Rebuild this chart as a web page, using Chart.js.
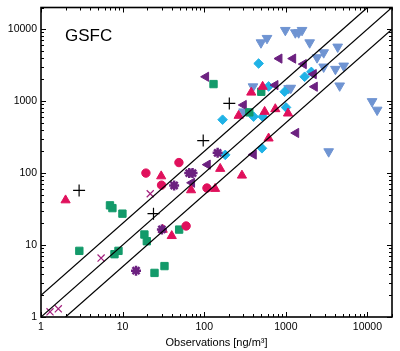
<!DOCTYPE html>
<html>
<head>
<meta charset="utf-8">
<script src="https://cdn.jsdelivr.net/npm/chart.js@4/dist/chart.umd.min.js"></script>
<style>
    * { margin: 0; padding: 0; }
    body { background: #fff; width: 400px; height: 351px; overflow: hidden; }
    #wrap { position: relative; width: 400px; height: 351px; }
</style>
</head>
<body>
<div id="wrap"><canvas id="mainChart" width="400" height="351"></canvas></div>
<script>
//  D A T A  //
const tickValues = [1, 10, 100, 1000, 10000];
const axisMin = 1;
const axisMax = 20000;

// ratio lines 1:2, 1:1, 2:1
const lineUpperX = [1, 10000];
const lineUpperY = [2, 20000];
const lineMidX = [1, 20000];
const lineMidY = [1, 20000];
const lineLowerX = [2, 20000];
const lineLowerY = [1, 10000];

const circleX = [19.3, 49, 30, 60, 108];
const circleY = [100, 140, 68, 18.4, 62];

const triUpX = [2.0, 29.7, 31, 40, 69, 157, 136, 290, 377, 520, 264, 550, 743, 1064, 615];
const triUpY = [42, 90.6, 16.4, 13.4, 58, 115, 60.6, 92.7, 1320, 1590, 628, 713, 777, 676, 304];

const squareX = [7.0, 7.5, 9.95, 2.95, 7.95, 8.9, 18.5, 19.8, 24.6, 32.6, 49.3, 130, 500, 357];
const squareY = [35.6, 32.6, 27.3, 8.3, 7.46, 8.3, 14, 11.3, 4.1, 5.1, 16.4, 1725, 1350, 698];

const triLeftX = [105, 832, 1225, 1653, 2190, 2256, 743, 304, 1334, 403, 110, 70.7];
const triLeftY = [2180, 3900, 3900, 3270, 2370, 1585, 1670, 883, 361, 181, 131, 73.4];

const plusX = [2.93, 23.9, 97.2, 203];
const plusY = [57.4, 27.3, 283, 930];

const crossX = [21.8, 5.45, 1.29, 1.63];
const crossY = [51.6, 6.6, 1.18, 1.3];

const starX = [14.6, 30.3, 42.8, 65.5, 72, 146];
const starY = [4.4, 16.5, 67.3, 100, 100, 191];

const diamondX = [464, 615, 967, 1700, 2056, 168, 403, 520, 1005, 510, 181];
const diamondY = [3330, 1600, 1350, 2180, 2550, 552, 608, 608, 818, 221, 179];

const triDownX = [986, 1308, 1436, 1580, 588, 496, 1960, 4320, 2910, 2415, 2910, 4050, 5120, 4570, 396, 1082, 1150, 304, 11400, 13150, 3350];
const triDownY = [9660, 8950, 8950, 9660, 7480, 6500, 6500, 5670, 4730, 4030, 2995, 2780, 3090, 1635, 1590, 1500, 1520, 713, 990, 753, 199];


function pts(xs, ys) {
    return xs.map((v, i) => ({ x: v, y: ys[i] }));
}

function lineSet(xs, ys) {
    return {
        data: pts(xs, ys),
        showLine: true,
        borderColor: "#000",
        borderWidth: 1.2,
        pointRadius: 0,
        fill: false
    };
}

function markerSet(xs, ys, style, color, radius, rotation, bw) {
    return {
        data: pts(xs, ys),
        pointStyle: style,
        pointRadius: radius,
        pointRotation: rotation || 0,
        backgroundColor: color,
        borderColor: color,
        borderWidth: bw === undefined ? 1 : bw
    };
}

const pink = "#e0105c";
const green = "#139a6a";
const purple = "#6c2180";
const cyan = "#1fb2e6";
const steel = "#6f94d2";


//  T I C K S   +   F R A M E  //
const framePlugin = {
    id: "frame",
    afterDatasetsDraw(chart) {
        const { ctx, chartArea: a, scales } = chart;
        const x = scales.x, y = scales.y;
        ctx.save();
        ctx.strokeStyle = "#000";
        ctx.lineWidth = 1;
        ctx.beginPath();
        for (let d = 1; d <= 10000; d *= 10) {
            for (let m = 1; m <= 9; m++) {
                const v = d * m;
                if (v > axisMax) break;
                const len = m === 1 ? 5 : 3;
                const px = Math.round(x.getPixelForValue(v)) + 0.5;
                ctx.moveTo(px, a.bottom); ctx.lineTo(px, a.bottom - len);
                ctx.moveTo(px, a.top); ctx.lineTo(px, a.top + len);
                const py = Math.round(y.getPixelForValue(v)) + 0.5;
                ctx.moveTo(a.left, py); ctx.lineTo(a.left + len, py);
                ctx.moveTo(a.right, py); ctx.lineTo(a.right - len, py);
            }
        }
        ctx.stroke();
        ctx.lineWidth = 1.6;
        ctx.strokeRect(a.left, a.top, a.right - a.left, a.bottom - a.top);

        ctx.fillStyle = "#000";
        ctx.font = "17px 'Liberation Sans', Arial, sans-serif";
        ctx.textBaseline = "middle";
        ctx.textAlign = "left";
        ctx.fillText("GSFC", 65, 36);
        ctx.restore();
    }
};

const tickFont = { family: "'Liberation Sans', Arial, sans-serif", size: 10.5 };

function fixTicks(scale) {
    scale.ticks = tickValues.map(v => ({ value: v }));
}

const chart = new Chart(document.getElementById("mainChart"), {
    type: "scatter",
    data: {
        datasets: [
            lineSet(lineUpperX, lineUpperY),
            lineSet(lineMidX, lineMidY),
            lineSet(lineLowerX, lineLowerY),
            markerSet(plusX, plusY, "cross", "#000", 6, 0, 1.2),
            markerSet(crossX, crossY, "crossRot", "#a3207e", 5, 0, 1.2),
            markerSet(starX, starY, "star", purple, 5, 0, 2.5),
            markerSet(circleX, circleY, "circle", pink, 4.2),
            markerSet(triUpX, triUpY, "triangle", pink, 5.3),
            markerSet(squareX, squareY, "rect", green, 5.2),
            markerSet(triLeftX, triLeftY, "triangle", purple, 5.3, -90),
            markerSet(diamondX, diamondY, "rectRot", cyan, 4.8),
            markerSet(triDownX, triDownY, "triangle", steel, 5.6, 180)
        ]
    },
    options: {
        responsive: false,
        animation: false,
        layout: { padding: { left: 0, top: 6, right: 8, bottom: 0 } },
        plugins: {
            legend: { display: false },
            tooltip: { enabled: false }
        },
        scales: {
            x: {
                type: "logarithmic",
                min: axisMin,
                max: axisMax,
                afterBuildTicks: fixTicks,
                afterFit(scale) {
                    scale.height = 34;
                    scale.paddingLeft = 0;
                    scale.paddingRight = 0;
                },
                grid: { display: false, drawTicks: false },
                border: { display: false },
                ticks: {
                    color: "#000",
                    font: tickFont,
                    padding: 4,
                    maxRotation: 0,
                    autoSkip: false,
                    callback: v => String(v)
                },
                title: {
                    display: true,
                    text: "Observations [ng/m³]",
                    color: "#000",
                    font: { family: "'Liberation Sans', Arial, sans-serif", size: 11 },
                    padding: { top: 0, bottom: 1 }
                }
            },
            y: {
                type: "logarithmic",
                min: axisMin,
                max: axisMax,
                afterBuildTicks: fixTicks,
                afterFit(scale) {
                    scale.width = 41;
                    scale.paddingTop = 0;
                    scale.paddingBottom = 0;
                },
                grid: { display: false, drawTicks: false },
                border: { display: false },
                ticks: {
                    color: "#000",
                    font: tickFont,
                    padding: 4,
                    autoSkip: false,
                    callback: v => String(v)
                }
            }
        }
    },
    plugins: [framePlugin]
});
</script>
</body>
</html>
